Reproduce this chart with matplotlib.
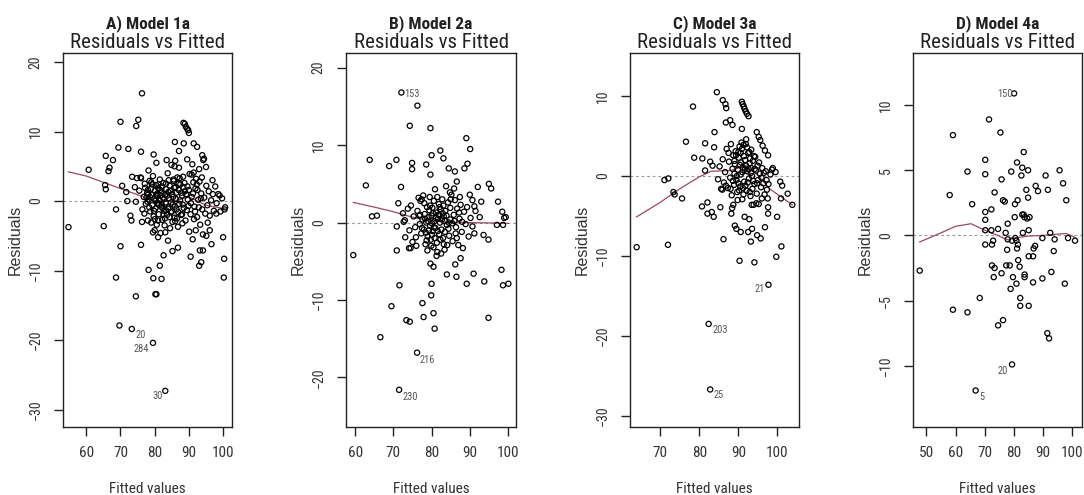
import matplotlib
matplotlib.use('Agg')
import matplotlib.pyplot as plt
import warnings
warnings.filterwarnings('ignore')

# ---------------- data ----------------
titles = ['A) Model 1a', 'B) Model 2a', 'C) Model 3a', 'D) Model 4a']
subtitle = 'Residuals vs Fitted'

A_points = [
    (54.8, -3.75), (60.7, 4.5), (65.1, -3.6), (65.5, 2.3), (65.7, 1.7), (65.7, 6.5), (66.5, 4.3),
    (66.8, 4.8), (67.8, 5.9), (68.7, -1.2), (68.7, -11.0), (69.4, 7.7), (69.7, -17.9), (70.0, 11.4),
    (70.0, -6.5), (70.5, 2.2), (71.7, 1.3), (72.0, 0.0), (72.3, 7.5), (72.9, -2.1), (73.2, -2.8),
    (73.3, -18.4), (73.4, 3.5), (74.5, -13.7), (74.6, 10.8), (75.2, 11.7), (74.5, -0.1), (76.0, 7.1),
    (76.0, -6.3), (76.3, 15.5), (76.3, -3.0), (78.2, 4.4), (78.2, -9.9), (79.6, -11.1), (79.5, -20.4),
    (79.7, 6.7), (80.5, 5.5), (80.5, -13.4), (80.2, -13.4), (81.5, -9.3), (82.0, -11.2), (82.6, -7.8),
    (83.1, -27.3), (83.9, -5.7), (85.2, -7.2), (85.9, 8.5), (86.8, -6.7), (87.1, 7.2), (88.5, 8.3),
    (88.4, 11.25), (88.8, 11.1), (89.1, 10.7), (89.5, 10.4), (89.8, 10.2), (90.0, 9.8), (90.5, -8.0),
    (91.4, 8.3), (92.4, 7.8), (93.0, -9.3), (93.2, -7.1), (93.6, -8.8), (93.9, 6.6), (94.4, 6.1),
    (94.1, -7.1), (95.1, -5.0), (96.1, -4.2), (96.6, -6.2), (100.0, -5.2), (100.3, -8.3), (100.2, -11.0),
    (100.6, -0.9), (99.0, 0.8), (98.0, -1.8),
    (74.2, 2.0), (74.8, 3.3), (75.5, 1.5), (75.9, 3.4), (76.4, -1.2), (76.8, 0.6), (77.1, 2.5),
    (77.4, -0.4), (77.8, 1.2), (78.0, -2.8), (78.3, 0.2), (78.5, 2.9), (78.7, -1.5), (78.9, 1.8),
    (79.1, 0.9), (79.3, -0.6), (79.5, 3.6), (79.7, -2.2), (79.9, 0.3), (80.1, 1.5), (80.2, -1.1),
    (80.4, 2.3), (80.6, -3.4), (80.7, 0.7), (80.9, -0.3), (81.0, 1.9), (81.2, -1.9), (81.4, 0.1),
    (81.5, 3.1), (81.7, -4.6), (81.9, -0.8), (82.0, 1.2), (82.2, -2.7), (82.4, 0.5), (82.5, 2.6),
    (82.7, -1.4), (82.9, -3.5), (83.0, 0.9), (83.2, -0.2), (83.4, 1.7), (83.6, -2.0), (83.8, 4.0),
    (84.0, -0.9), (84.2, 0.4), (84.4, 2.2), (84.5, -3.9), (84.7, -1.6), (84.9, 5.2), (85.1, 1.0),
    (85.3, -0.5), (85.5, 3.1), (85.6, 2.9), (85.8, -2.4), (86.0, 5.8), (86.2, 0.3), (86.4, -1.2),
    (86.6, 3.4), (86.8, -3.7), (87.0, 1.6), (87.2, -0.4), (87.5, 2.4), (87.7, -2.0), (88.0, 0.8),
    (88.3, 3.5), (88.5, -1.0), (88.8, 1.4), (89.0, -2.8), (89.3, 0.9), (89.6, 2.1), (89.9, -0.7),
    (90.2, 3.9), (90.5, -1.9), (90.8, 0.6), (91.0, 5.3), (91.3, 2.7), (91.6, -0.8), (91.9, 1.8),
    (92.1, 3.2), (92.4, -2.3), (92.7, 0.2), (93.0, 4.6), (93.3, -3.4), (93.6, 1.1), (93.9, -1.2),
    (94.2, 5.9), (94.5, 0.5), (94.8, -1.8), (95.1, 2.2), (95.4, -0.6), (95.8, 1.4), (96.1, -2.1),
    (96.5, 0.1), (96.9, 3.0), (97.3, -1.4), (97.7, 2.1), (98.1, -0.3), (98.6, 1.0), (99.2, -1.5),
    (99.7, 0.4), (100.4, -1.2), (76.0, 3.3), (77.0, -1.8), (78.1, 1.0), (79.0, -3.1), (80.0, -4.2),
    (81.1, 2.4), (82.1, -0.5), (83.1, -4.5), (84.1, 3.0), (85.2, -3.0), (86.1, 2.0), (87.1, 4.8),
    (88.1, -3.2), (89.2, 1.0), (90.1, -4.4), (91.1, -5.5), (92.0, -4.2), (93.1, 2.8), (94.1, -4.8),
    (95.0, 4.9), (83.5, 5.9), (85.8, 5.0), (81.0, -5.2), (79.5, -4.5), (86.5, -2.5), (89.5, 6.0),
    (90.8, 3.8), (91.4, 4.1), (92.5, 1.6), (88.4, 2.0), (87.3, 3.3), (84.6, 1.5), (83.3, 2.5),
    (82.6, -1.9), (80.5, 0.9), (78.4, -0.9), (77.6, 0.5),
    (77.2, 1.9), (77.9, -0.1), (78.6, 0.6), (79.2, 2.4), (79.8, -1.4), (80.3, 0.1), (80.8, 1.1),
    (81.3, -0.5), (81.6, 1.6), (82.3, -1.0), (82.8, 0.3), (83.3, -1.3), (83.7, 0.8), (84.3, -2.3),
    (84.8, -0.2), (85.4, 0.6), (85.9, -0.8), (86.3, 1.2), (86.9, -1.6), (87.4, 0.1), (88.2, -0.5),
    (88.7, 2.6), (89.4, -1.3), (90.0, 1.6), (90.6, -0.3), (91.2, 1.1), (91.8, -1.5), (92.3, 2.4),
    (92.9, -0.9), (93.5, 0.4), (79.0, 2.7), (80.0, -2.6), (81.0, -2.8), (82.0, 2.1), (83.0, -2.5),
    (84.0, 1.3), (85.0, -1.5), (86.0, -2.9), (87.0, 2.5), (88.0, -1.9), (78.0, 1.6), (81.7, 0.8),
    (83.9, -1.1), (85.7, 1.9), (87.8, 1.2), (89.7, 0.2), (91.5, -2.6), (93.8, 3.4), (95.5, -3.1),
    (97.0, 1.0),
]

B_points = [
    (59.5, -4.2), (62.8, 4.8), (63.8, 8.1), (64.4, 0.8), (65.7, 0.9), (66.6, -14.8), (68.9, 7.3),
    (69.5, -10.8), (70.8, 8.1), (70.9, -0.5), (70.9, -3.6), (71.3, 2.5), (71.6, -8.1), (72.1, 16.8),
    (71.5, -21.6), (72.0, 4.6), (72.7, 0.1), (73.1, -1.9), (73.4, -12.6), (74.3, -12.8), (74.3, 12.5),
    (74.9, 7.7), (74.9, 6.9), (74.1, -3.3), (76.2, -16.8), (76.3, 15.1), (77.6, -10.4), (77.9, -12.2),
    (78.6, 7.5), (79.7, 12.2), (79.7, 6.2), (80.0, 8.7), (79.7, -5.3), (80.0, -7.9), (79.9, -9.4),
    (80.5, -11.7), (80.8, -13.7), (80.5, -5.7), (82.3, 9.3), (83.1, 8.3), (84.0, -6.7), (84.5, 7.0),
    (86.1, 6.6), (86.2, -5.4), (86.5, -7.0), (86.6, 5.3), (87.6, -4.6), (88.6, 7.0), (89.1, 10.9),
    (89.4, 7.6), (89.2, -7.9), (90.1, 9.5), (90.0, 3.6), (90.7, 2.9), (91.0, -6.6), (91.2, 2.1),
    (92.1, 4.6), (92.6, 0.7), (93.0, 2.7), (93.8, -7.6), (93.6, -1.6), (94.9, -2.2), (94.9, -12.3),
    (95.0, 5.0), (95.6, 4.4), (97.1, -0.3), (97.4, 2.7), (98.3, -6.1), (98.5, 1.4), (98.7, -8.1),
    (99.0, 0.6), (99.4, 0.7), (98.7, -0.3), (100.1, -7.9), (91.2, -1.4),
    (72.5, 1.2), (73.0, 0.3), (73.8, 1.8), (74.2, -1.0), (74.6, 2.2), (75.0, -2.5), (75.3, 0.8),
    (75.7, -0.6), (76.0, -3.0), (76.3, 1.5), (76.6, 3.2), (76.9, -0.2), (77.1, 2.8), (77.3, -1.4),
    (77.6, 0.4), (77.8, 3.5), (78.0, -0.9), (78.2, 1.1), (78.4, -2.8), (78.6, 0.0), (78.8, 2.0),
    (79.0, -1.8), (79.2, 0.7), (79.4, 1.6), (79.6, -0.4), (79.8, -2.2), (80.0, 0.9), (80.2, 1.9),
    (80.3, -1.1), (80.5, -3.2), (80.7, 0.2), (80.9, 4.3), (81.0, -0.7), (81.2, 1.3), (81.4, -2.6),
    (81.5, -3.8), (81.7, 0.5), (81.9, 2.4), (82.0, -1.5), (82.2, 0.0), (82.4, 1.7), (82.6, -0.9),
    (82.8, 3.0), (83.0, -2.0), (83.2, 0.8), (83.4, -3.5), (83.6, 1.5), (83.8, 4.7), (84.0, -0.3),
    (84.3, 2.6), (84.6, -1.7), (84.9, 0.4), (85.2, 3.6), (85.5, -2.4), (85.8, 1.0), (86.1, 2.9),
    (86.4, -0.6), (86.7, 1.8), (87.0, -2.9), (87.3, 0.5), (87.6, 2.3), (87.9, -1.2), (88.2, -3.3),
    (88.5, 1.4), (88.9, -0.2), (89.3, 2.0), (89.7, -1.8), (90.2, 0.6), (90.7, -0.5), (91.5, 1.5),
    (79.5, 3.3), (80.6, 2.8), (81.3, -4.3), (82.5, -4.0), (78.9, -3.6), (84.8, 3.9), (85.9, 4.4),
    (77.4, 3.0), (75.9, -1.9), (74.5, -3.3), (80.1, -0.1), (81.8, 1.0), (83.5, 0.2), (86.3, -1.4),
    (88.0, 0.1), (79.3, -1.0), (82.1, 2.0), (84.1, -2.9), (78.3, 0.5), (76.8, 0.9), (87.4, 3.3),
    (85.0, 3.0),
    (77.0, 1.0), (77.5, -0.7), (78.1, 2.5), (78.5, -1.3), (79.1, 0.2), (79.6, 2.2), (80.1, -1.6),
    (80.4, 1.2), (80.8, -2.0), (81.1, 0.6), (81.6, -1.1), (82.0, 1.0), (82.3, -2.2), (82.7, 0.4),
    (83.1, 2.2), (83.5, -1.2), (83.9, 0.9), (84.4, -0.8), (84.9, 1.9), (85.4, -0.1), (86.0, 0.2),
    (86.6, -2.0), (87.2, 1.3), (79.9, -3.0), (81.5, 3.3), (83.2, -2.8), (78.7, -2.3), (80.6, -0.6),
    (82.9, 1.2), (84.5, 0.0),
]

C_points = [
    (64.0, -8.9), (71.1, -0.5), (72.1, -0.3), (72.0, -8.6), (73.4, -2.0), (73.7, -2.3), (75.6, -2.8),
    (76.6, 4.3), (78.4, 8.7), (78.7, 2.3), (80.7, -3.8), (80.8, 2.2), (81.5, 4.1), (81.5, 0.7),
    (82.1, -3.3), (82.1, -4.7), (82.4, -18.5), (82.8, -26.7), (82.8, 1.8), (83.2, -4.5), (83.7, -5.1),
    (83.4, 1.3), (83.8, 3.6), (83.9, 5.5), (84.5, 10.5), (85.4, -3.9), (86.2, -7.9), (86.0, 9.5),
    (86.7, 9.0), (86.9, 8.5), (86.8, 6.7), (87.9, 7.0), (88.2, -4.7), (88.5, 6.4), (88.7, -3.6),
    (89.1, -6.2), (89.5, -6.6), (90.3, -10.6), (90.6, -7.0), (90.9, 9.3), (91.1, 9.0), (91.4, 8.7),
    (91.6, 8.4), (91.9, 8.1), (92.2, 7.8), (92.6, 7.5), (90.9, 5.9), (91.6, -5.1), (92.5, -7.0),
    (92.8, -5.4), (93.2, -8.2), (93.5, -6.6), (94.1, -10.8), (94.7, 5.5), (95.2, 4.9), (95.6, 4.5),
    (94.8, -7.4), (95.7, -7.8), (96.2, 3.8), (96.8, 3.2), (97.6, 2.6), (96.8, -6.4), (97.6, -3.9),
    (97.6, -4.7), (97.7, -13.6), (98.8, 1.0), (99.5, 0.5), (99.9, -5.1), (99.7, -10.1), (100.7, -0.7),
    (101.0, -8.8), (101.2, -1.2), (100.9, -2.8), (102.6, -2.2), (103.8, -3.6),
    (84.8, -0.4), (85.2, 1.2), (85.6, -1.6), (86.0, 2.1), (86.3, -0.8), (86.6, 0.5), (87.0, 3.4),
    (87.3, -1.5), (87.6, 1.8), (87.9, -0.2), (88.1, 4.0), (88.3, -2.4), (88.5, 0.9), (88.7, 2.6),
    (88.9, -1.1), (89.1, 1.5), (89.3, 3.1), (89.5, -0.5), (89.7, -2.0), (89.9, 0.8), (90.1, 2.3),
    (90.3, 3.7), (90.5, -1.3), (90.6, 0.2), (90.8, 4.2), (91.0, -2.9), (91.1, 1.1), (91.3, 3.9),
    (91.5, -0.7), (91.7, 2.0), (91.9, 4.0), (92.1, -1.8), (92.3, 0.6), (92.5, 2.9), (92.7, -0.3),
    (92.9, 1.6), (93.1, -2.5), (93.3, 3.3), (93.5, 0.0), (93.7, 1.9), (93.9, -3.6), (94.1, -1.0),
    (94.3, 2.4), (94.5, 0.7), (94.7, -2.2), (94.9, 1.3), (95.2, -3.5), (95.5, 0.3), (95.8, -1.4),
    (96.1, 1.0), (96.4, -0.9), (96.7, -2.3), (97.0, 0.6), (97.3, -1.7), (97.7, -1.0), (98.2, 0.2),
    (98.6, 0.8), (92.0, 4.6), (90.9, 3.4), (89.4, 2.6), (93.4, -3.6), (88.0, -1.6), (86.8, -1.2),
    (94.0, 2.5), (95.0, -0.5), (91.2, -1.5), (90.0, -0.9), (92.6, 0.9), (93.8, -0.6), (87.5, 2.9),
    (89.0, 0.3), (91.6, 0.8), (96.0, -2.8), (97.5, -2.8), (85.9, -1.7), (88.4, -4.0), (90.4, 1.4),
    (92.2, 3.6), (93.0, 2.2), (94.6, -3.4),
    (88.6, -0.6), (89.0, 1.9), (89.6, 0.0), (90.0, 3.0), (90.2, -1.8), (90.7, 1.7), (91.0, 0.5),
    (91.4, 2.5), (91.8, -1.2), (92.0, 1.3), (92.4, -0.8), (92.8, 3.0), (93.2, 0.4), (93.6, -1.6),
    (94.2, 0.9), (94.8, -0.9), (95.3, 1.7), (95.9, -0.2), (96.5, 0.4), (97.2, -0.5), (89.8, -3.0),
    (91.3, -2.3), (92.9, -2.0), (90.6, 2.9), (93.3, 1.0),
]

D_points = [
    (47.7, -2.7), (58.0, 3.1), (59.1, 7.7), (59.1, -5.7), (64.1, 4.9), (64.1, -5.9), (65.7, 2.4),
    (66.9, -11.9), (68.3, -4.8), (70.2, 5.8), (70.2, 4.7), (70.2, 1.8), (70.2, 1.2), (70.2, 0.4),
    (70.2, -0.7), (71.5, 8.9), (72.3, 2.0), (72.3, 0.4), (72.5, -0.7), (72.5, -2.3), (72.9, -0.4),
    (73.1, -3.2), (73.4, 3.3), (73.4, -2.5), (74.6, 0.5), (74.6, -6.9), (75.4, 7.9), (75.8, 4.3),
    (75.8, -2.9), (76.3, -6.5), (76.3, 2.7), (76.9, 2.6), (77.2, 0.2), (77.4, -2.3), (77.7, -1.1),
    (77.9, 0.9), (77.9, -0.3), (78.6, -2.3), (78.9, -4.1), (79.1, 4.9), (79.4, -9.9), (79.4, -0.4),
    (79.7, -3.2), (80.3, 1.4), (80.4, 2.4), (80.5, -0.2), (80.9, -0.4), (80.9, -3.7), (81.1, 5.6),
    (81.1, -1.0), (81.3, 2.7), (81.4, -0.7), (81.5, -1.9), (82.0, -2.4), (82.2, -4.8), (82.2, -5.4),
    (82.6, 4.6), (82.9, 5.2), (82.9, 1.6), (83.1, 0.2), (83.4, 6.4), (83.4, 1.6), (83.7, 1.4),
    (83.7, -3.0), (83.7, -3.2), (84.3, 3.5), (84.6, 1.3), (84.9, 5.0), (84.9, 2.9), (85.1, 0.4),
    (85.1, -5.4), (85.4, 1.4), (85.1, -1.6), (86.6, -1.6), (86.6, -3.6), (86.8, -1.0), (87.3, -0.8),
    (87.5, 3.8), (88.3, 3.4), (89.8, -0.2), (89.8, -3.3), (90.9, 4.6), (91.7, 3.5), (91.5, -7.5),
    (92.1, -7.9), (92.5, 0.2), (92.9, -2.8), (93.7, -1.2), (94.0, -0.3), (95.7, 5.0), (96.9, 4.0),
    (97.5, -3.7), (98.0, 2.7), (98.6, -0.2), (101.0, -0.4), (80.1, 10.9),
]

smooth_A_x = [54.8, 60, 65, 70, 75, 80, 85, 90, 95, 100.6]
smooth_A_y = [4.2, 3.6, 2.7, 1.8, 0.9, 0.1, -0.1, 0.6, -0.6, -1.1]
smooth_B_x = [59.5, 65, 70, 75, 80, 85, 90, 95, 100.1]
smooth_B_y = [2.6, 2.0, 1.4, 0.7, 0.2, 0.05, 0.0, -0.05, -0.1]
smooth_C_x = [64.0, 70, 75, 80, 83, 88, 92, 95, 98, 103.8]
smooth_C_y = [-5.1, -3.3, -1.6, -0.1, 0.6, 0.7, 1.3, 0.1, -1.6, -3.6]
smooth_D_x = [47.7, 55, 60, 65.3, 70, 75, 78, 80, 85, 90, 95, 98, 101.0]
smooth_D_y = [-0.5, 0.2, 0.7, 0.9, 0.4, -0.05, -0.35, -0.2, -0.05, 0.0, 0.1, 0.15, -0.15]

# (label, x, y, side) side 'l' = text starts at x, 'r' = text ends at x
labels_A = [('20', 74.3, -19.3, 'l'), ('284', 78.3, -21.3, 'r'), ('30', 82.4, -28.1, 'r')]
labels_B = [('153', 72.8, 16.6, 'l'), ('216', 76.9, -17.7, 'l'), ('230', 72.4, -22.5, 'l')]
labels_C = [('21', 96.7, -14.1, 'r'), ('203', 83.4, -19.2, 'l'), ('25', 83.7, -27.4, 'l')]
labels_D = [('150', 79.5, 10.85, 'r'), ('20', 78.0, -10.4, 'r'), ('5', 68.1, -12.4, 'l')]

xticks_list = [[60, 70, 80, 90, 100], [60, 70, 80, 90, 100], [70, 80, 90, 100], [50, 60, 70, 80, 90, 100]]
yticks_list = [[-30, -20, -10, 0, 10, 20], [-20, -10, 0, 10, 20], [-30, -20, -10, 0, 10], [-10, -5, 0, 5, 10]]
xlims = [(53.2, 102.6), (57.6, 102.1), (62.3, 105.5), (45.4, 103.4)]
ylims = [(-32.5, 21.3), (-26.4, 21.9), (-31.4, 15.4), (-14.7, 14.0)]

# ---------------- drawing ----------------
NARROW = ['Roboto Condensed', 'Archivo Narrow', 'Liberation Sans', 'DejaVu Sans']
NARROW_B = ['Roboto Condensed', 'Barlow Semi Condensed', 'Liberation Sans', 'DejaVu Sans']
REG = ['Liberation Sans', 'DejaVu Sans']

W, H = 1084, 495
fig = plt.figure(figsize=(W / 100, H / 100), dpi=100)
fig.patch.set_facecolor('white')
boxes = [(63, 232), (346, 516), (630, 799), (913, 1082)]
top_px, bot_px = 53, 427

all_points = [A_points, B_points, C_points, D_points]
smooths = [(smooth_A_x, smooth_A_y), (smooth_B_x, smooth_B_y), (smooth_C_x, smooth_C_y), (smooth_D_x, smooth_D_y)]
all_labels = [labels_A, labels_B, labels_C, labels_D]

for i in range(4):
    l, r = boxes[i]
    ax = fig.add_axes([l / W, 1 - bot_px / H, (r - l) / W, (bot_px - top_px) / H])
    xs = [p[0] for p in all_points[i]]
    ys = [p[1] for p in all_points[i]]
    ax.axhline(0, color='#9a9a9a', lw=0.8, ls=(0, (2.5, 2.5)), zorder=1)
    ax.scatter(xs, ys, s=14, facecolors='none', edgecolors='black', linewidths=0.9, zorder=3)
    sx, sy = smooths[i]
    ax.plot(sx, sy, color='#9a4a5c', lw=0.9, zorder=2)
    for txt, tx, ty, side in all_labels[i]:
        ax.text(tx, ty, txt, fontsize=7.5, color='#555555', family=NARROW,
                ha='left' if side == 'l' else 'right', va='center', zorder=4)
    ax.set_xlim(*xlims[i])
    ax.set_ylim(*ylims[i])
    ax.set_xticks(xticks_list[i])
    ax.set_yticks(yticks_list[i])
    for sp in ax.spines.values():
        sp.set_linewidth(1.0)
        sp.set_color('#222222')
    ax.tick_params(axis='both', direction='out', length=6.5, width=1.0, color='#222222')
    ax.tick_params(axis='x', pad=7)
    ax.tick_params(axis='y', pad=8)
    for lab in ax.get_xticklabels():
        lab.set_fontfamily(NARROW)
        lab.set_fontsize(11)
        lab.set_color('#333333')
    for lab in ax.get_yticklabels():
        lab.set_fontfamily(NARROW)
        lab.set_fontsize(10)
        lab.set_rotation(90)
        lab.set_va('center')
        lab.set_color('#333333')
    # titles
    ax.text(0.5, 1.065, titles[i], transform=ax.transAxes, ha='center', va='baseline',
            fontsize=12.5, fontweight='bold', family=NARROW_B, color='#222222')
    ax.text(0.5, 1.013, subtitle, transform=ax.transAxes, ha='center', va='baseline',
            fontsize=15, family=NARROW, color='#222222')
    # axis labels
    cx = (l + r) / 2
    fig.text(cx / W, 1 - 489 / H, 'Fitted values', ha='center', va='center',
             fontsize=11, family=NARROW, color='#333333')
    fig.text((l - 48) / W, 1 - 240 / H, 'Residuals', ha='center', va='center', rotation=90,
             fontsize=11.5, family=REG, color='#333333')

fig.savefig('out.png', dpi=100, facecolor='white')
